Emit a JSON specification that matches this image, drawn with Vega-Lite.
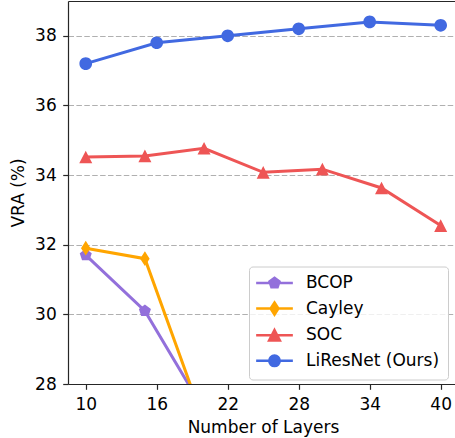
{
  "$schema": "https://vega.github.io/schema/vega-lite/v6.json",
  "width": 387,
  "height": 383,
  "autosize": {"type": "none"},
  "padding": {"left": 68, "top": 1, "right": 0, "bottom": 54},
  "background": "white",
  "config": {
    "view": {"stroke": null},
    "font": "DejaVu Sans",
    "axis": {
      "labelFont": "DejaVu Sans",
      "titleFont": "DejaVu Sans",
      "labelFontSize": 17,
      "titleFontSize": 17,
      "titleFontWeight": "normal",
      "labelColor": "#000000",
      "titleColor": "#000000",
      "domainColor": "#262626",
      "tickColor": "#262626",
      "domainWidth": 1.2,
      "tickWidth": 1.2,
      "tickSize": 5.3,
      "grid": false
    },
    "legend": {"title": null, "orient": "none", "legendX": 181, "legendY": 265.5, "padding": 8, "rowPadding": 4.6, "symbolOffset": 9, "labelOffset": 23, "labelFontSize": 17, "labelFont": "DejaVu Sans", "labelColor": "#000000", "labelLimit": 300, "symbolSize": 110, "symbolStrokeWidth": 2.5, "symbolOpacity": 1, "fillColor": "rgba(255,255,255,0.8)", "strokeColor": "#cccccc", "cornerRadius": 3.5}
  },
  "data": {
    "values": [
      {"model": "BCOP", "layers": 10, "vra": 31.7},
      {"model": "BCOP", "layers": 15, "vra": 30.1},
      {"model": "BCOP", "layers": 20, "vra": 27.24},
      {"model": "Cayley", "layers": 10, "vra": 31.9},
      {"model": "Cayley", "layers": 15, "vra": 31.6},
      {"model": "Cayley", "layers": 20, "vra": 26.89},
      {"model": "SOC", "layers": 10, "vra": 34.52},
      {"model": "SOC", "layers": 15, "vra": 34.55},
      {"model": "SOC", "layers": 20, "vra": 34.77},
      {"model": "SOC", "layers": 25, "vra": 34.08},
      {"model": "SOC", "layers": 30, "vra": 34.17},
      {"model": "SOC", "layers": 35, "vra": 33.63},
      {"model": "SOC", "layers": 40, "vra": 32.55},
      {"model": "LiResNet (Ours)", "layers": 10, "vra": 37.2},
      {"model": "LiResNet (Ours)", "layers": 16, "vra": 37.8},
      {"model": "LiResNet (Ours)", "layers": 22, "vra": 38.0},
      {"model": "LiResNet (Ours)", "layers": 28, "vra": 38.2},
      {"model": "LiResNet (Ours)", "layers": 34, "vra": 38.4},
      {"model": "LiResNet (Ours)", "layers": 40, "vra": 38.3}
    ]
  },
  "layer": [
    {
      "mark": {"type": "line", "strokeWidth": 3, "clip": true},
      "encoding": {
        "x": {
          "field": "layers", "type": "quantitative",
          "scale": {"domain": [8.5, 41.21], "nice": false, "zero": false},
          "axis": {"title": "Number of Layers", "values": [10, 16, 22, 28, 34, 40], "labelPadding": 7, "titlePadding": 7, "titleX": 195}
        },
        "y": {
          "field": "vra", "type": "quantitative",
          "scale": {"domain": [28, 39], "nice": false, "zero": false},
          "axis": {"title": "VRA (%)", "values": [28, 30, 32, 34, 36, 38], "grid": true, "gridDash": [5.5, 2.4], "gridColor": "#b0b0b0", "gridWidth": 1.2, "labelPadding": 6.5, "titlePadding": 7}
        },
        "color": {
          "field": "model", "type": "nominal",
          "scale": {"domain": ["BCOP", "Cayley", "SOC", "LiResNet (Ours)"], "range": ["#9370DB", "#FFA500", "#EE5555", "#4169E1"]}
        }
      }
    },
    {
      "mark": {"type": "point", "filled": true, "opacity": 1, "size": 160, "clip": true},
      "encoding": {
        "x": {
          "field": "layers", "type": "quantitative",
          "axis": {"orient": "top", "labels": false, "ticks": false, "title": null, "domain": true, "grid": false}
        },
        "y": {
          "field": "vra", "type": "quantitative",
          "axis": {"title": "VRA (%)", "values": [28, 30, 32, 34, 36, 38], "grid": true, "gridDash": [5.5, 2.4], "gridColor": "#b0b0b0", "gridWidth": 1.2, "labelPadding": 6.5, "titlePadding": 7}
        },
        "color": {"field": "model", "type": "nominal"},
        "shape": {
          "field": "model", "type": "nominal",
          "scale": {
            "domain": ["BCOP", "Cayley", "SOC", "LiResNet (Ours)"],
            "range": [
              "M-3.5,0L3.5,0M0,-1L0.951,-0.309L0.588,0.809L-0.588,0.809L-0.951,-0.309Z",
              "M-3.5,0L3.5,0M0,-1.17L0.75,0L0,1.17L-0.75,0Z",
              "M-3.5,0L3.5,0M0,-1L1.03,1L-1.03,1Z",
              "M-3.5,0L3.5,0M1,0A1,1,0,1,1,-1,0A1,1,0,1,1,1,0Z"
            ]
          },
          "legend": {"symbolStrokeColor": {"expr": "scale('color', datum.value)"}}
        }
      }
    }
  ],
  "resolve": {"axis": {"x": "independent"}}
}
